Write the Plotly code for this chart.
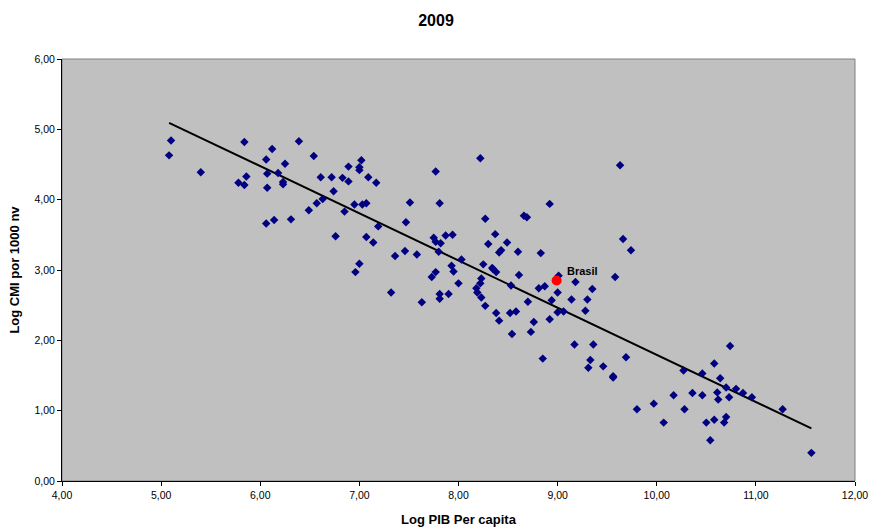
import numpy as np
import plotly.graph_objects as go

log_pib = [
    5.10, 5.08, 5.40, 5.84, 6.12, 6.39, 6.06, 6.25, 6.54, 6.07, 6.18, 5.86, 5.78, 5.84,
    6.23, 6.23, 6.07, 6.61, 6.72, 6.83, 6.89, 6.89, 7.00, 7.00, 7.02, 7.09, 6.74, 6.49,
    6.57, 6.63, 6.85, 6.95, 7.03, 7.07, 6.06, 6.14, 6.31, 6.76, 7.07, 7.00, 6.96,
    8.22, 7.77, 7.17, 7.51, 7.81, 8.92, 7.47, 7.19, 7.14, 8.27, 8.66, 8.69, 8.37, 8.30,
    8.49, 8.43, 8.41, 8.60, 8.83, 7.75, 7.77, 7.82, 7.87, 7.94, 7.46, 7.36, 7.58, 7.80,
    8.03, 7.93, 8.25, 8.34,
    7.95, 7.77, 7.73, 8.35, 8.38, 8.61, 8.23, 8.22, 8.00, 8.53, 8.18, 8.19, 7.32, 7.81,
    7.81, 7.90, 8.23, 8.27, 7.63, 8.38, 8.52, 8.58, 8.41, 8.54, 8.70, 8.76, 8.73, 8.81,
    8.87, 9.01, 9.00, 8.94, 8.92, 9.00, 9.06, 9.18, 9.14, 9.30, 9.28, 9.35, 9.17, 9.36,
    8.85, 9.33, 9.31,
    9.63, 9.66, 9.74, 9.58, 9.46, 9.56, 9.56, 9.69, 10.74, 10.58, 10.27, 10.46, 10.64,
    10.70, 10.80, 10.87, 10.96, 10.61, 10.73, 10.62, 10.46, 10.36, 10.17, 9.97, 9.80,
    10.28, 10.07, 10.50, 10.58, 10.70, 10.68, 10.54, 11.27, 11.56,
]
log_cmi = [
    4.84, 4.63, 4.39, 4.82, 4.72, 4.83, 4.57, 4.51, 4.62, 4.37, 4.38, 4.33, 4.24, 4.21,
    4.25, 4.22, 4.17, 4.32, 4.32, 4.31, 4.26, 4.47, 4.46, 4.42, 4.56, 4.32, 4.12, 3.85,
    3.95, 4.01, 3.83, 3.93, 3.93, 3.95, 3.66, 3.71, 3.72, 3.48, 3.47, 3.09, 2.97,
    4.59, 4.40, 4.24, 3.96, 3.95, 3.94, 3.68, 3.62, 3.39, 3.73, 3.77, 3.75, 3.51, 3.37,
    3.39, 3.28, 3.25, 3.26, 3.24, 3.46, 3.40, 3.38, 3.49, 3.50, 3.27, 3.20, 3.22, 3.26,
    3.15, 3.06, 3.08, 3.03,
    2.98, 2.97, 2.90, 3.01, 2.97, 2.93, 2.88, 2.81, 2.81, 2.78, 2.74, 2.68, 2.68, 2.66,
    2.59, 2.66, 2.61, 2.49, 2.54, 2.39, 2.39, 2.41, 2.28, 2.09, 2.55, 2.26, 2.12, 2.74,
    2.77, 2.92, 2.68, 2.57, 2.30, 2.40, 2.41, 2.83, 2.58, 2.58, 2.42, 2.73, 1.94, 1.94,
    1.74, 1.72, 1.61,
    4.49, 3.44, 3.28, 2.90, 1.63, 1.49, 1.47, 1.76, 1.92, 1.67, 1.57, 1.53, 1.46,
    1.33, 1.31, 1.25, 1.19, 1.26, 1.19, 1.16, 1.22, 1.25, 1.22, 1.10, 1.02,
    1.02, 0.83, 0.83, 0.87, 0.91, 0.83, 0.58, 1.02, 0.40,
]
brasil_x = [8.99]
brasil_y = [2.85]
brasil_label = ["Brasil"]

x_ticks = [4, 5, 6, 7, 8, 9, 10, 11, 12]
y_ticks = [0, 1, 2, 3, 4, 5, 6]

xs = np.array(log_pib + brasil_x)
ys = np.array(log_cmi + brasil_y)
slope, intercept = np.polyfit(xs, ys, 1)
trend_x = np.array([xs.min(), xs.max()])
trend_y = slope * trend_x + intercept

fig = go.Figure()
fig.add_trace(go.Scatter(
    x=trend_x, y=trend_y, mode="lines",
    line=dict(color="black", width=2), hoverinfo="skip", showlegend=False,
))
fig.add_trace(go.Scatter(
    x=log_pib, y=log_cmi, mode="markers",
    marker=dict(symbol="diamond", size=6.5, color="#000080", line=dict(width=0)),
    showlegend=False,
))
fig.add_trace(go.Scatter(
    x=brasil_x, y=brasil_y, mode="markers",
    marker=dict(symbol="circle", size=10, color="#FF0000"),
    showlegend=False,
))
fig.add_annotation(
    x=brasil_x[0], y=brasil_y[0], text="<b>" + brasil_label[0] + "</b>",
    showarrow=False, xanchor="left", yanchor="bottom", xshift=8, yshift=2,
    font=dict(family="Liberation Sans, Arial", size=11, color="black"),
)

font_family = "Liberation Sans, Arial, sans-serif"
fig.update_layout(
    width=872, height=532,
    margin=dict(l=62, r=17, t=59, b=51, autoexpand=False),
    paper_bgcolor="white", plot_bgcolor="#C0C0C0",
    separators=",.",
    font=dict(family=font_family, size=10.5, color="black"),
    title=dict(text="<b>2009</b>", x=0.5, xanchor="center", y=0.962, yanchor="middle",
               font=dict(size=16, family=font_family)),
    showlegend=False,
)
fig.update_xaxes(
    range=[4, 12], tickvals=x_ticks, tickformat=".2f", automargin=False,
    showgrid=False, zeroline=False,
    showline=True, linecolor="black", linewidth=1, mirror=False,
    ticks="outside", ticklen=4, tickcolor="black",
    title=dict(text="<b>Log PIB Per capita</b>", font=dict(size=13), standoff=15),
)
fig.update_yaxes(
    range=[0, 6], tickvals=y_ticks, tickformat=".2f", automargin=False,
    showgrid=False, zeroline=False,
    showline=True, linecolor="black", linewidth=1,
    ticks="outside", ticklen=4, tickcolor="black",
    title=dict(text="<b>Log CMI por 1000 nv</b>", font=dict(size=13), standoff=11),
)
fig.add_shape(type="rect", xref="paper", yref="paper", x0=0, y0=0, x1=1, y1=1,
              line=dict(color="#808080", width=1), layer="below")

fig.write_html(
    "out.html",
    config={"displayModeBar": False},
    post_script="document.body.style.margin='0';document.body.style.overflow='hidden';",
)
